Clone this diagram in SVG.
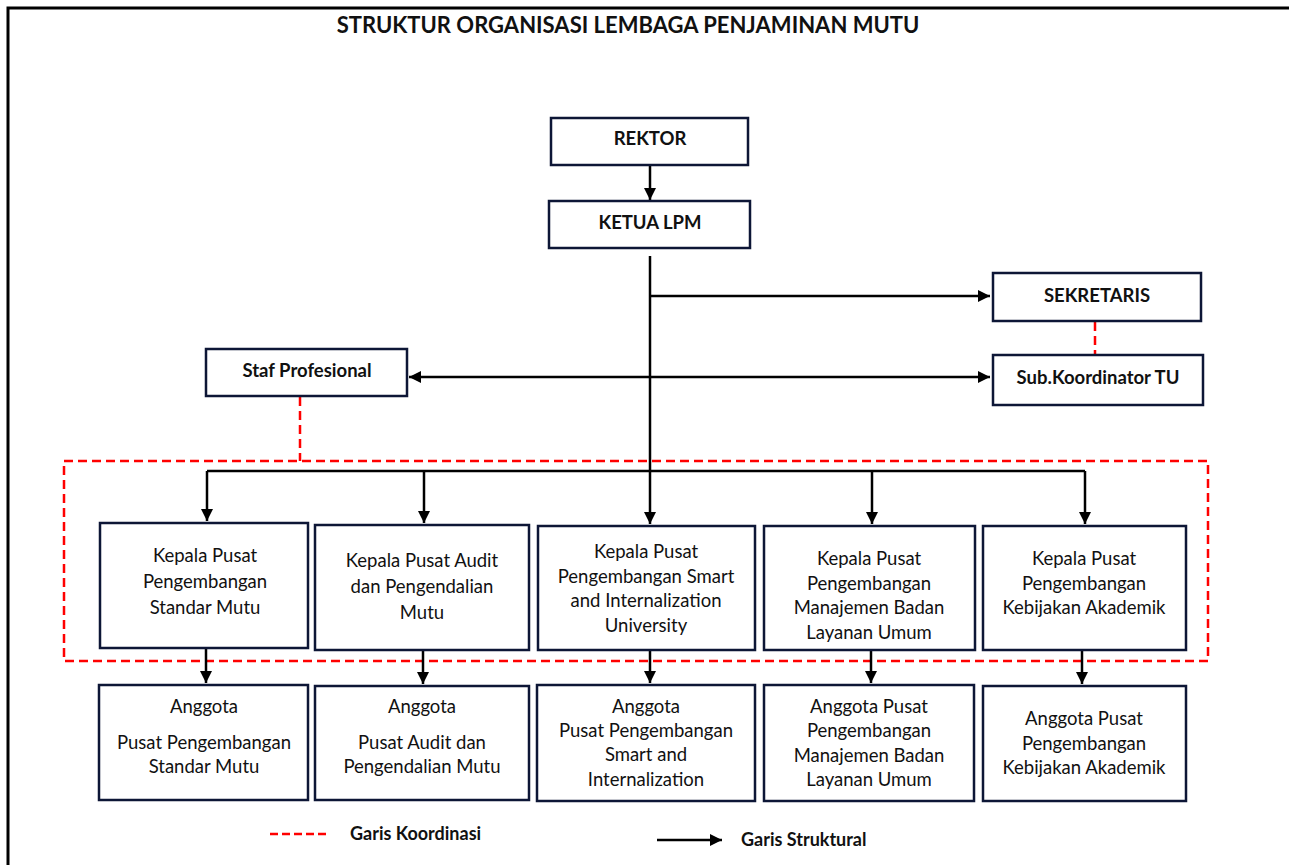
<svg xmlns="http://www.w3.org/2000/svg" width="1289" height="865" viewBox="0 0 1289 865">
<defs>
<marker id="ah" markerUnits="userSpaceOnUse" markerWidth="14" markerHeight="12" refX="12" refY="6" orient="auto-start-reverse">
<path d="M0,0 L12,6 L0,12 Z" fill="#000"/>
</marker>
<style>
.box{fill:#fff;stroke:#0d1636;stroke-width:2.5}
.b{font-family:Lato,"Liberation Sans",sans-serif;font-weight:bold;font-size:18.5px;fill:#111;text-anchor:middle}
.t{font-family:Lato,"Liberation Sans",sans-serif;font-size:18.5px;fill:#111;text-anchor:middle}
.lg{font-family:Lato,"Liberation Sans",sans-serif;font-weight:bold;font-size:18px;fill:#111}
.ln{fill:none;stroke:#000;stroke-width:2.5}
.ar{fill:none;stroke:#000;stroke-width:2.5;marker-end:url(#ah)}
.rd{fill:none;stroke:#f00;stroke-width:2.5;stroke-dasharray:9,5}
</style>
</defs>
<rect width="1289" height="865" fill="#fff"/>
<path d="M8,865 V8 H1289" fill="none" stroke="#000" stroke-width="3"/>
<text x="628" y="33" class="b" style="font-size:22px">STRUKTUR ORGANISASI LEMBAGA PENJAMINAN MUTU</text>

<g id="connectors">
<line class="ar" x1="650" y1="166" x2="650" y2="200"/>
<line class="ln" x1="650" y1="256" x2="650" y2="472"/>
<line class="ar" x1="650" y1="296" x2="990" y2="296"/>
<line class="ar" x1="409" y1="377" x2="990" y2="377" style="marker-start:url(#ah)"/>
<line class="rd" x1="1095" y1="322" x2="1095" y2="355"/>
<line class="rd" x1="300" y1="397" x2="300" y2="461"/>
<rect class="rd" x="64" y="461" width="1144" height="200"/>
<path class="ln" d="M207,471 H1085"/>
<line class="ar" x1="207" y1="471" x2="207" y2="521"/>
<line class="ar" x1="424" y1="471" x2="424" y2="523"/>
<line class="ar" x1="650" y1="471" x2="650" y2="524"/>
<line class="ar" x1="872" y1="471" x2="872" y2="524"/>
<line class="ar" x1="1085" y1="471" x2="1085" y2="524"/>
<line class="ar" x1="206" y1="649" x2="206" y2="683"/>
<line class="ar" x1="423" y1="651" x2="423" y2="684"/>
<line class="ar" x1="650" y1="651" x2="650" y2="683"/>
<line class="ar" x1="871" y1="651" x2="871" y2="683"/>
<line class="ar" x1="1082" y1="651" x2="1082" y2="684"/>
</g>

<g id="rektor"><rect class="box" x="551" y="118" width="197" height="47"/><text class="b" x="650" y="145">REKTOR</text></g>
<g id="ketua"><rect class="box" x="549" y="201" width="201" height="47"/><text class="b" x="650" y="229">KETUA LPM</text></g>
<g id="sekretaris"><rect class="box" x="993" y="273" width="208" height="48"/><text class="b" x="1097" y="302">SEKRETARIS</text></g>
<g id="subkoor"><rect class="box" x="993" y="355" width="210" height="50"/><text class="b" x="1098" y="384">Sub.Koordinator TU</text></g>
<g id="staf"><rect class="box" x="206" y="349" width="201" height="47"/><text class="b" x="307" y="377">Staf Profesional</text></g>

<g id="kp1"><rect class="box" x="100" y="523" width="208" height="125"/>
<text class="t" x="205" y="562">Kepala Pusat</text><text class="t" x="205" y="588">Pengembangan</text><text class="t" x="205" y="614">Standar Mutu</text></g>
<g id="kp2"><rect class="box" x="315" y="525" width="214" height="125"/>
<text class="t" x="422" y="567">Kepala Pusat Audit</text><text class="t" x="422" y="593">dan Pengendalian</text><text class="t" x="422" y="619">Mutu</text></g>
<g id="kp3"><rect class="box" x="538" y="526" width="217" height="124"/>
<text class="t" x="646" y="558">Kepala Pusat</text><text class="t" x="646" y="583">Pengembangan Smart</text><text class="t" x="646" y="607">and Internalization</text><text class="t" x="646" y="632">University</text></g>
<g id="kp4"><rect class="box" x="764" y="526" width="211" height="124"/>
<text class="t" x="869" y="565">Kepala Pusat</text><text class="t" x="869" y="590">Pengembangan</text><text class="t" x="869" y="614">Manajemen Badan</text><text class="t" x="869" y="639">Layanan Umum</text></g>
<g id="kp5"><rect class="box" x="983" y="526" width="203" height="124"/>
<text class="t" x="1084" y="565">Kepala Pusat</text><text class="t" x="1084" y="590">Pengembangan</text><text class="t" x="1084" y="614">Kebijakan Akademik</text></g>

<g id="ag1"><rect class="box" x="99" y="685" width="209" height="115"/>
<text class="t" x="204" y="713">Anggota</text><text class="t" x="204" y="749">Pusat Pengembangan</text><text class="t" x="204" y="773">Standar Mutu</text></g>
<g id="ag2"><rect class="box" x="315" y="686" width="214" height="114"/>
<text class="t" x="422" y="713">Anggota</text><text class="t" x="422" y="749">Pusat Audit dan</text><text class="t" x="422" y="773">Pengendalian Mutu</text></g>
<g id="ag3"><rect class="box" x="537" y="685" width="218" height="116"/>
<text class="t" x="646" y="713">Anggota</text><text class="t" x="646" y="737">Pusat Pengembangan</text><text class="t" x="646" y="761">Smart and</text><text class="t" x="646" y="786">Internalization</text></g>
<g id="ag4"><rect class="box" x="764" y="685" width="210" height="116"/>
<text class="t" x="869" y="713">Anggota Pusat</text><text class="t" x="869" y="737">Pengembangan</text><text class="t" x="869" y="762">Manajemen Badan</text><text class="t" x="869" y="786">Layanan Umum</text></g>
<g id="ag5"><rect class="box" x="983" y="686" width="203" height="115"/>
<text class="t" x="1084" y="725">Anggota Pusat</text><text class="t" x="1084" y="750">Pengembangan</text><text class="t" x="1084" y="774">Kebijakan Akademik</text></g>

<g id="legend">
<line class="rd" x1="270" y1="834" x2="326" y2="834" style="stroke-dasharray:8,4"/>
<text x="350" y="840" class="lg">Garis Koordinasi</text>
<line class="ar" x1="657" y1="840" x2="722" y2="840"/>
<text x="741" y="846" class="lg">Garis Struktural</text>
</g>
</svg>
